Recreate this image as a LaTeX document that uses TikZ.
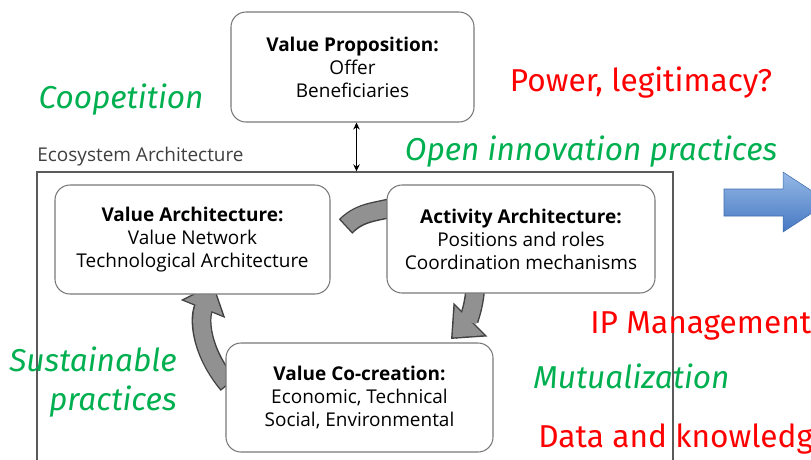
\documentclass[tikz,border=0pt]{standalone}
\usepackage{fontspec}
\setmainfont{Open Sans}
\newfontfamily\labelfont{Fira Sans}
\usetikzlibrary{arrows.meta,positioning,calc,backgrounds}

\definecolor{goodgreen}{RGB}{0,176,80}
\definecolor{badred}{RGB}{255,0,0}
\definecolor{cyclefill}{RGB}{145,145,145}
\definecolor{cycledark}{RGB}{65,65,65}
\definecolor{boxline}{RGB}{120,120,120}
\definecolor{ecoline}{RGB}{90,90,90}
\definecolor{arrowtop}{RGB}{150,185,230}
\definecolor{arrowbot}{RGB}{70,120,195}

\tikzset{
  block/.style={draw=boxline, line width=0.6pt, rounded corners=3mm, fill=white,
    align=center, font=\fontsize{10.8}{13.1}\selectfont},
  ecobox/.style={draw=ecoline, line width=0.8pt, inner sep=0pt},
  goodlbl/.style={text=goodgreen, inner sep=0pt, font=\labelfont\itshape\fontsize{18}{22.5}\selectfont},
  badlbl/.style={text=badred, inner sep=0pt, font=\labelfont\fontsize{18}{22.5}\selectfont},
  cycleband/.style={draw=cyclefill, line width=3.4mm,
    preaction={draw=cycledark, line width=3.4mm+1.6pt, shorten <=-0.8pt}},
  cyclearrow/.style={draw=cyclefill, line width=3.4mm, -{Triangle[length=4.8mm,width=8mm]},
    preaction={draw=cycledark, line width=3.4mm+1.6pt, shorten <=-0.8pt, shorten >=-1.25pt,
      -{Triangle[length=4.8mm+2pt,width=9.2mm]}}},
  linkarrow/.style={line width=0.6pt, {Stealth[length=1.4mm,width=1.3mm]}-{Stealth[length=1.4mm,width=1.3mm]}},
}

\begin{document}
\begin{tikzpicture}[x=0.2mm, y=0.2mm]
  \useasboundingbox (0,0) rectangle (811,-459);
  \clip (0,0) rectangle (811,-459);

  % ecosystem frame, runs out at the bottom
  \node[ecobox, minimum width=127.2mm, minimum height=61.6mm] (eco) at (355,-326) {};
  \node[anchor=base west, inner sep=0pt, text=black!75, font=\fontsize{10.8}{13}\selectfont] (econame) at (37,-161) {Ecosystem Architecture};

  \node[block, minimum width=48.6mm, minimum height=22mm] (vp) at (352.5,-67)
    {\textbf{Value Proposition:}\\Offer\\Beneficiaries};
  \node[block, minimum width=55mm, minimum height=21.8mm] (va) at (192.5,-239.5)
    {\textbf{Value Architecture:}\\Value Network\\Technological Architecture};
  \node[block, minimum width=53.6mm, minimum height=21.6mm] (aa) at (521,-239)
    {\textbf{Activity Architecture:}\\Positions and roles\\Coordination mechanisms};
  \node[block, minimum width=53.4mm, minimum height=21.8mm] (vc) at (359.5,-397.5)
    {\textbf{Value Co-creation:}\\Economic, Technical\\Social, Environmental};

  % cycle arrows go under the boxes
  \begin{scope}[on background layer]
    \coordinate (vatail) at ($(va.east)+(16,14)$);
    \draw[cycleband] (vatail) to[out=45, in=200] ($(aa.west)+(14,34)$);
    \draw[cyclearrow] ($(aa.south)+(-46,2)$) to[out=-95, in=45] ($(vc.north)+(93,5)$);
    \draw[cyclearrow] ($(vc.west)+(2,14)$) to[out=130, in=-112] ($(va.south)+(20,9)$);
  \end{scope}

  \draw[linkarrow] ($(vp.south)+(4,0)$) -- ($(vp.south |- eco.north)+(4,0)$);

  \node[goodlbl, anchor=base] (coop) at (121,-108) {Coopetition};
  \node[badlbl, anchor=base] (power) at (641,-91) {Power, legitimacy?};
  \node[goodlbl, anchor=base] (openinn) at (591,-160) {Open innovation practices};
  \node[goodlbl, anchor=east, align=right] (sust) at (177,-382) {Sustainable\\practices};
  \node[badlbl, anchor=base west] (ipm) at (590,-333) {IP Management?};
  \node[goodlbl, anchor=base west] (mutu) at (533,-388) {Mutualization};
  \node[badlbl, anchor=base west] (data) at (538,-447) {Data and knowledge};

  % big arrow leaving the picture
  \shade[top color=arrowtop, bottom color=arrowbot, draw=arrowbot!90!black, line width=0.3pt]
    (724,-189) -- (783,-189) -- (783,-172) -- (829,-202) -- (783,-232) -- (783,-216) -- (724,-216) -- cycle;
\end{tikzpicture}
\end{document}
